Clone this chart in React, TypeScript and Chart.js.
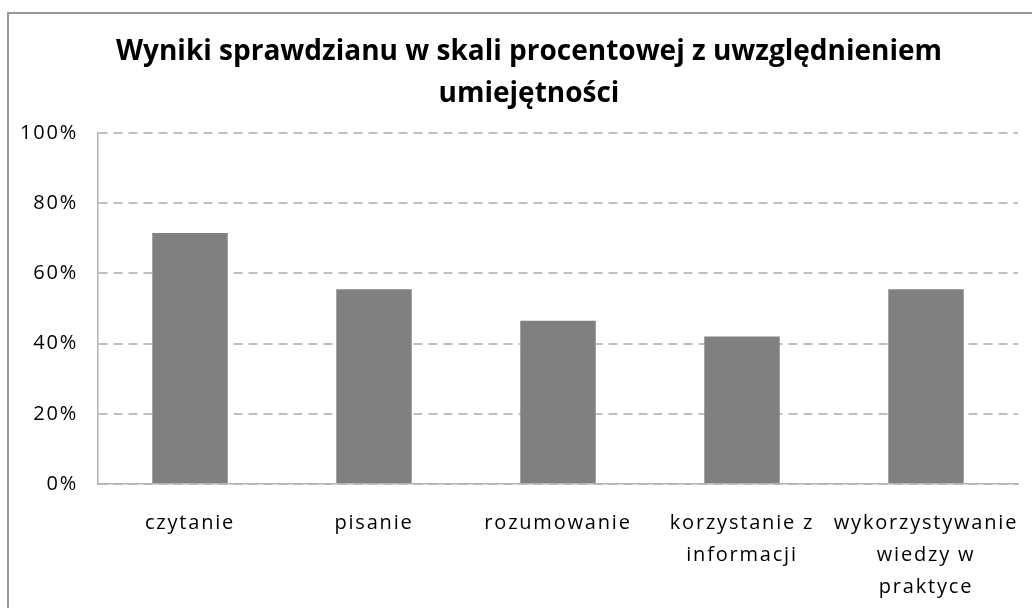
import { useEffect, useRef } from "react";
import { Chart, registerables } from "chart.js";

Chart.register(...registerables);

const TITLE_LINES = ["Wyniki sprawdzianu w skali procentowej z uwzględnieniem", "umiejętności"];
const CATEGORIES = [
  ["czytanie"],
  ["pisanie"],
  ["rozumowanie"],
  ["korzystanie z", "informacji"],
  ["wykorzystywanie", "wiedzy w", "praktyce"],
];
const VALUES = [0.715, 0.555, 0.465, 0.42, 0.555];
const Y_MIN = 0;
const Y_MAX = 1;
const Y_STEP = 0.2;

const FONT = "'Open Sans', 'Noto Sans', sans-serif";
const SPACING = "1.8px";

const spacingPlugin = {
  id: "letterSpacing",
  beforeLayout(chart: any) {
    chart.ctx.letterSpacing = SPACING;
  },
  afterLayout(chart: any) {
    const t = chart.titleBlock;
    if (t && !t.__patched) {
      const orig = t.draw.bind(t);
      t.draw = (...args: any[]) => {
        const ctx = chart.ctx;
        const prev = ctx.letterSpacing;
        ctx.letterSpacing = "0px";
        orig(...args);
        ctx.letterSpacing = prev;
      };
      t.__patched = true;
    }
  },
  beforeDraw(chart: any) {
    chart.ctx.letterSpacing = SPACING;
  },
};

export default function App() {
  const ref = useRef<HTMLCanvasElement | null>(null);

  useEffect(() => {
    if (!ref.current) return;
    const chart = new Chart(ref.current, {
      type: "bar",
      data: {
        labels: CATEGORIES,
        datasets: [
          {
            data: VALUES,
            backgroundColor: "#808080",
            borderWidth: 0,
            barPercentage: 0.41,
            categoryPercentage: 1,
            yAxisID: "y",
          },
        ],
      },
      plugins: [spacingPlugin],
      options: {
        responsive: false,
        animation: false,
        devicePixelRatio: 1,
        layout: { padding: 0 },
        plugins: {
          legend: { display: false },
          tooltip: { enabled: false },
          title: {
            display: true,
            text: TITLE_LINES,
            color: "#000000",
            font: { family: FONT, size: 28, weight: "bold", lineHeight: 42 / 28 },
            padding: { top: 17, bottom: 18 },
          },
        },
        scales: {
          x: {
            grid: { display: false },
            border: { display: true, color: "#b3b3b3", width: 1.5 },
            ticks: {
              color: "#000000",
              font: { family: FONT, size: 20, lineHeight: 32 / 20 },
              padding: 15,
              maxRotation: 0,
              autoSkip: false,
            },
            afterFit(s: any) {
              s.height = 130;
            },
          },
          y: {
            min: Y_MIN,
            max: Y_MAX,
            grid: { color: "#bfbfbf", lineWidth: 2, drawTicks: false },
            border: { display: true, color: "#b3b3b3", width: 1.5, dash: [9, 6] },
            ticks: {
              stepSize: Y_STEP,
              color: "#000000",
              font: { family: FONT, size: 20 },
              padding: 20,
              callback: (v: any) => Math.round(Number(v) * 100) + "%",
            },
            afterFit(s: any) {
              s.width = 89;
            },
          },
          yRight: {
            type: "linear",
            position: "right",
            display: true,
            grid: { display: false, drawTicks: false },
            border: { display: false },
            ticks: { display: false },
            afterFit(s: any) {
              s.width = 31;
            },
          },
        },
      },
    });
    return () => chart.destroy();
  }, []);

  return (
    <div style={{ position: "fixed", left: 0, top: 0, width: 1032, height: 608, overflow: "hidden", background: "#ffffff" }}>
      <div
        style={{
          position: "absolute",
          left: 7,
          top: 12,
          width: 1040,
          height: 620,
          border: "2px solid #999999",
          background: "#ffffff",
        }}
      >
        <canvas ref={ref} width={1040} height={600} style={{ display: "block", width: 1040, height: 600 }} />
      </div>
    </div>
  );
}
